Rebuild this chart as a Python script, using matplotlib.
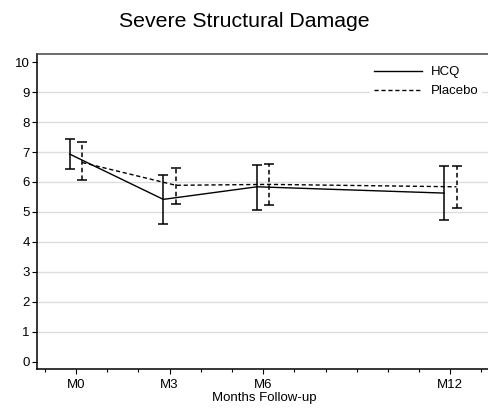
import matplotlib
matplotlib.use('Agg')
import matplotlib.pyplot as plt
import numpy as np

plt.rcParams['font.family'] = ['Liberation Sans', 'DejaVu Sans']

# Data
months = [0, 3, 6, 12]
tick_labels = ['M0', 'M3', 'M6', 'M12']
hcq_mean = [6.93, 5.42, 5.84, 5.63]
hcq_low = [6.44, 4.60, 5.08, 4.73]
hcq_high = [7.45, 6.25, 6.58, 6.52]
pla_mean = [6.65, 5.89, 5.92, 5.84]
pla_low = [6.08, 5.28, 5.24, 5.12]
pla_high = [7.32, 6.47, 6.61, 6.52]

fig = plt.figure(figsize=(4.88, 4.11), dpi=100)
ax = fig.add_axes([0.0758, 0.1015, 0.93, 0.767])

x = np.array(months, dtype=float)
off = 0.2

def draw(xs, mean, low, high, ls, label):
    mean = np.array(mean)
    yerr = [mean - np.array(low), np.array(high) - mean]
    ax.plot(xs, mean, color='black', lw=1, ls=ls, label=label, zorder=3)
    eb = ax.errorbar(xs, mean, yerr=yerr, fmt='none', ecolor='black',
                     elinewidth=1.1, capsize=3.6, capthick=1.1, zorder=3)
    for lc in eb[2]:
        lc.set_linestyle(ls)

draw(x - off, hcq_mean, hcq_low, hcq_high, '-', 'HCQ')
draw(x + off, pla_mean, pla_low, pla_high, (0, (3, 2)), 'Placebo')

ax.set_xlim(-1.25, 13.3)
ax.set_ylim(-0.25, 10.27)
ax.set_yticks(range(0, 11))
ax.set_xticks(months)
ax.set_xticklabels(tick_labels)
ax.set_xticks(range(-1, 14), minor=True)
for v in range(1, 10):
    ax.axhline(v, color='#dcdcdc', lw=1, zorder=1)

ax.tick_params(axis='both', labelsize=9.5, length=3.6, width=0.8, pad=1.5)
ax.tick_params(axis='x', pad=3.5)
ax.tick_params(axis='x', which='minor', length=2.2, width=0.8)
for s in ['left', 'bottom', 'top']:
    ax.spines[s].set_linewidth(1.1)
ax.spines['top'].set_color('#444444')
ax.spines['right'].set_visible(False)

ax.set_xlabel('Months Follow-up', fontsize=9.5, labelpad=0.5)
fig.suptitle('Severe Structural Damage', fontsize=15.3, y=0.972)

leg = ax.legend(loc='upper right', bbox_to_anchor=(0.995, 0.995), frameon=True,
                fontsize=9.5, handlelength=3.7, handletextpad=0.6,
                labelspacing=0.5, borderpad=0.3)
leg.get_frame().set_edgecolor('none')
leg.get_frame().set_facecolor('white')
leg.get_frame().set_alpha(1)

fig.savefig('out.png', dpi=100)
